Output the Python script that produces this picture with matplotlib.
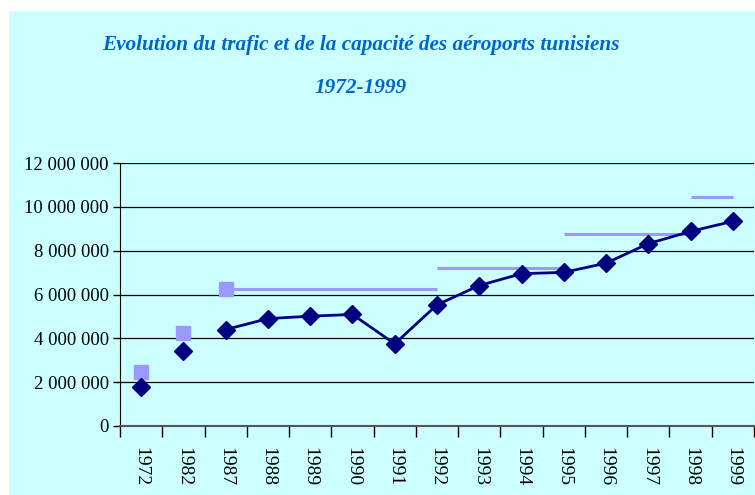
import matplotlib
matplotlib.use('Agg')
import matplotlib.pyplot as plt
from matplotlib.patches import Rectangle
from matplotlib.ticker import FuncFormatter, FixedLocator

plt.rcParams['font.family'] = ['Liberation Serif', 'DejaVu Serif']

# ---- données ----
years = ['1972', '1982', '1987', '1988', '1989', '1990', '1991', '1992',
         '1993', '1994', '1995', '1996', '1997', '1998', '1999']
trafic = [1760000, 3440000, 4400000, 4900000, 5010000, 5090000, 3750000,
          5530000, 6410000, 6950000, 7010000, 7430000, 8320000, 8880000,
          9340000]

# capacité : points isolés + paliers (début, fin, valeur)
cap_points_years = ['1972', '1982', '1987']
cap_points_values = [2480000, 4230000, 6260000]
cap_steps_start = ['1987', '1992', '1995', '1998']
cap_steps_end = ['1992', '1995', '1998', '1999']
cap_steps_values = [6260000, 7220000, 8740000, 10430000]

bg = '#CCFFFF'
navy = '#000080'
lilac = '#9999FF'
title_color = '#0066CC'

fig = plt.figure(figsize=(7.55, 4.95), dpi=100, facecolor='white')
fig.patches.append(Rectangle((9 / 755, 0), 1 - 9 / 755, 1 - 11 / 495,
                             transform=fig.transFigure, facecolor=bg,
                             edgecolor='none', zorder=-10))

ax = fig.add_axes([120 / 755, 1 - 426 / 495, 634 / 755, 263 / 495])
ax.set_facecolor(bg)

x = list(range(len(years)))
idx = {y: i for i, y in enumerate(years)}

# paliers de capacité
for s, e, v in zip(cap_steps_start, cap_steps_end, cap_steps_values):
    ax.plot([idx[s], idx[e]], [v, v], color=lilac, linewidth=2.2,
            solid_capstyle='butt', zorder=3)
ax.plot([idx[y] for y in cap_points_years], cap_points_values, linestyle='none',
        marker='s', markersize=10, color=lilac, zorder=4)

# trafic : 1972 et 1982 isolés, ligne continue à partir de 1987
ax.plot(x[:2], trafic[:2], linestyle='none', marker='D', markersize=9,
        color=navy, zorder=5)
ax.plot(x[2:], trafic[2:], color=navy, linewidth=2, marker='D',
        markersize=9, zorder=5)

ax.set_xlim(-0.5, len(years) - 0.5)
ax.set_ylim(0, 12000000)
ax.set_yticks(range(0, 12000001, 2000000))
ax.yaxis.set_major_formatter(FuncFormatter(lambda v, p: f'{int(v):,}'.replace(',', ' ')))
ax.yaxis.grid(True, color='black', linewidth=0.9)
ax.set_axisbelow(True)

ax.xaxis.set_major_locator(FixedLocator([i - 0.5 for i in range(len(years) + 1)]))
ax.xaxis.set_minor_locator(FixedLocator(x))
ax.set_xticklabels([])
ax.set_xticklabels(years, minor=True, rotation=270, fontsize=14)
ax.tick_params(axis='x', which='major', length=8, width=1, direction='out')
ax.tick_params(axis='x', which='minor', length=0, pad=15)
ax.tick_params(axis='y', length=5, width=1, labelsize=13.5, pad=3)

for side in ['top', 'right']:
    ax.spines[side].set_visible(False)
ax.spines['left'].set_color('black')
ax.spines['bottom'].set_color('#555555')
ax.spines['bottom'].set_linewidth(1.5)

fig.text(0.478, 1 - 45 / 495, 'Evolution du trafic et de la capacité des aéroports tunisiens',
         ha='center', va='center', fontsize=15.3, fontweight='bold',
         fontstyle='italic', color=title_color)
fig.text(0.478, 1 - 88 / 495, '1972-1999', ha='center', va='center',
         fontsize=15.3, fontweight='bold', fontstyle='italic', color=title_color)

fig.savefig('out.png', dpi=100, facecolor='white')
